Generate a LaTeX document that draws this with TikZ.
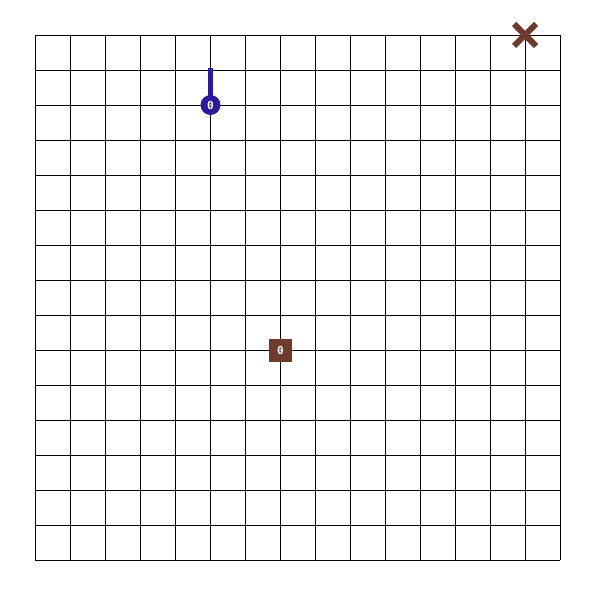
\documentclass[tikz,border=0pt]{standalone}
\usepackage{fontspec}
\setmainfont{DejaVu Sans Mono}
\usetikzlibrary{calc}
\definecolor{agentblue}{HTML}{2A1A9C}
\definecolor{boxbrown}{HTML}{6E3A2E}
\begin{document}
\begin{tikzpicture}[x=1pt,y=-1pt,
  gridline/.style={line width=0.9pt,black},
  agent/.style={circle,fill=agentblue,minimum size=20pt,inner sep=0pt,text=white,font=\fontsize{11}{11}\selectfont\bfseries},
  stick/.style={line width=5.5pt,agentblue},
  crate/.style={rectangle,fill=boxbrown,minimum size=23pt,inner sep=0pt,text=white,font=\fontsize{11}{11}\selectfont\bfseries},
  goal/.style={line width=6pt,boxbrown}]
\useasboundingbox (0,0) rectangle (601,601);
\foreach \i in {0,...,15}{
  \draw[gridline] ({35+35*\i},35) -- ({35+35*\i},560);
  \draw[gridline] (35,{35+35*\i}) -- (560,{35+35*\i});
}
\coordinate (sticktop) at (210.5,68);
\coordinate (ac) at (210.5,105);
\draw[stick] (sticktop) -- (ac);
\node[agent] (a) at (ac) {0};
\node[crate] (b) at (280.5,350.5) {0};
\coordinate (xc) at (525,35);
\draw[goal] ($(xc)+(-11,-11)$) -- ($(xc)+(11,11)$);
\draw[goal] ($(xc)+(-11,11)$) -- ($(xc)+(11,-11)$);
\end{tikzpicture}
\end{document}
